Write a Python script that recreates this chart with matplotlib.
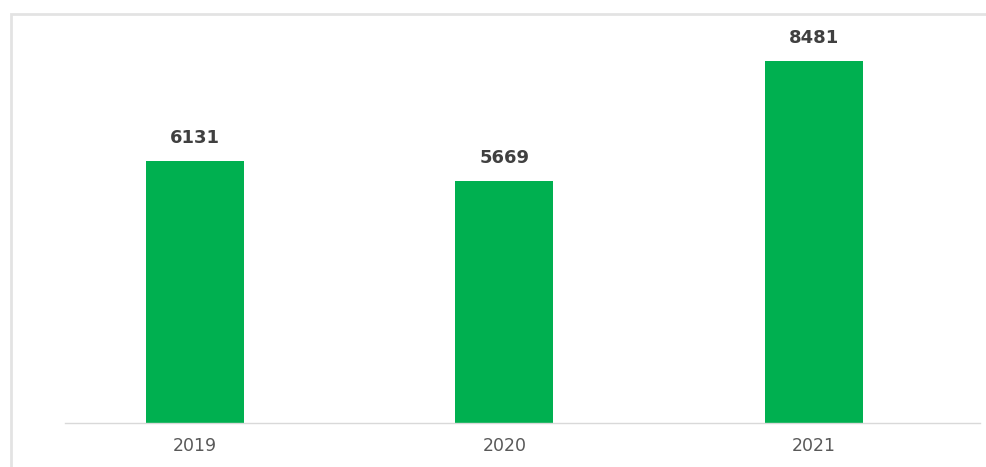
import matplotlib.pyplot as plt
from matplotlib.patches import Rectangle

years = ["2019", "2020", "2021"]
values = [6131, 5669, 8481]

W, H = 986, 467
fig = plt.figure(figsize=(W / 100, H / 100), dpi=100)

# light outer frame (runs off the right and bottom edges)
fig.patches.append(Rectangle((11 / W, -0.1), 1.2, (H - 14) / H + 0.1,
                             transform=fig.transFigure, fill=False,
                             edgecolor="#e3e3e3", linewidth=2))

ax = fig.add_axes([65 / W, 44 / H, (980 - 65) / W, (453 - 44) / H])
ax.set_xlim(-0.42, 2.537)
ax.set_ylim(0, 9570)
ax.set_facecolor("none")

x = range(len(years))
ax.bar(x, values, width=0.317, color="#00B050")

for i, v in zip(x, values):
    ax.annotate(str(v), (i, v), xytext=(0, 10), textcoords="offset points",
                ha="center", va="bottom", fontsize=13, fontweight="bold",
                color="#404040")

for s in ["top", "right", "left"]:
    ax.spines[s].set_visible(False)
ax.spines["bottom"].set_color("#d9d9d9")
ax.spines["bottom"].set_linewidth(1)
ax.set_yticks([])
ax.set_xticks(list(x))
ax.set_xticklabels(years, fontsize=12.5, color="#595959")
ax.tick_params(axis="x", length=0, pad=10)

fig.savefig("out.png", dpi=100)
